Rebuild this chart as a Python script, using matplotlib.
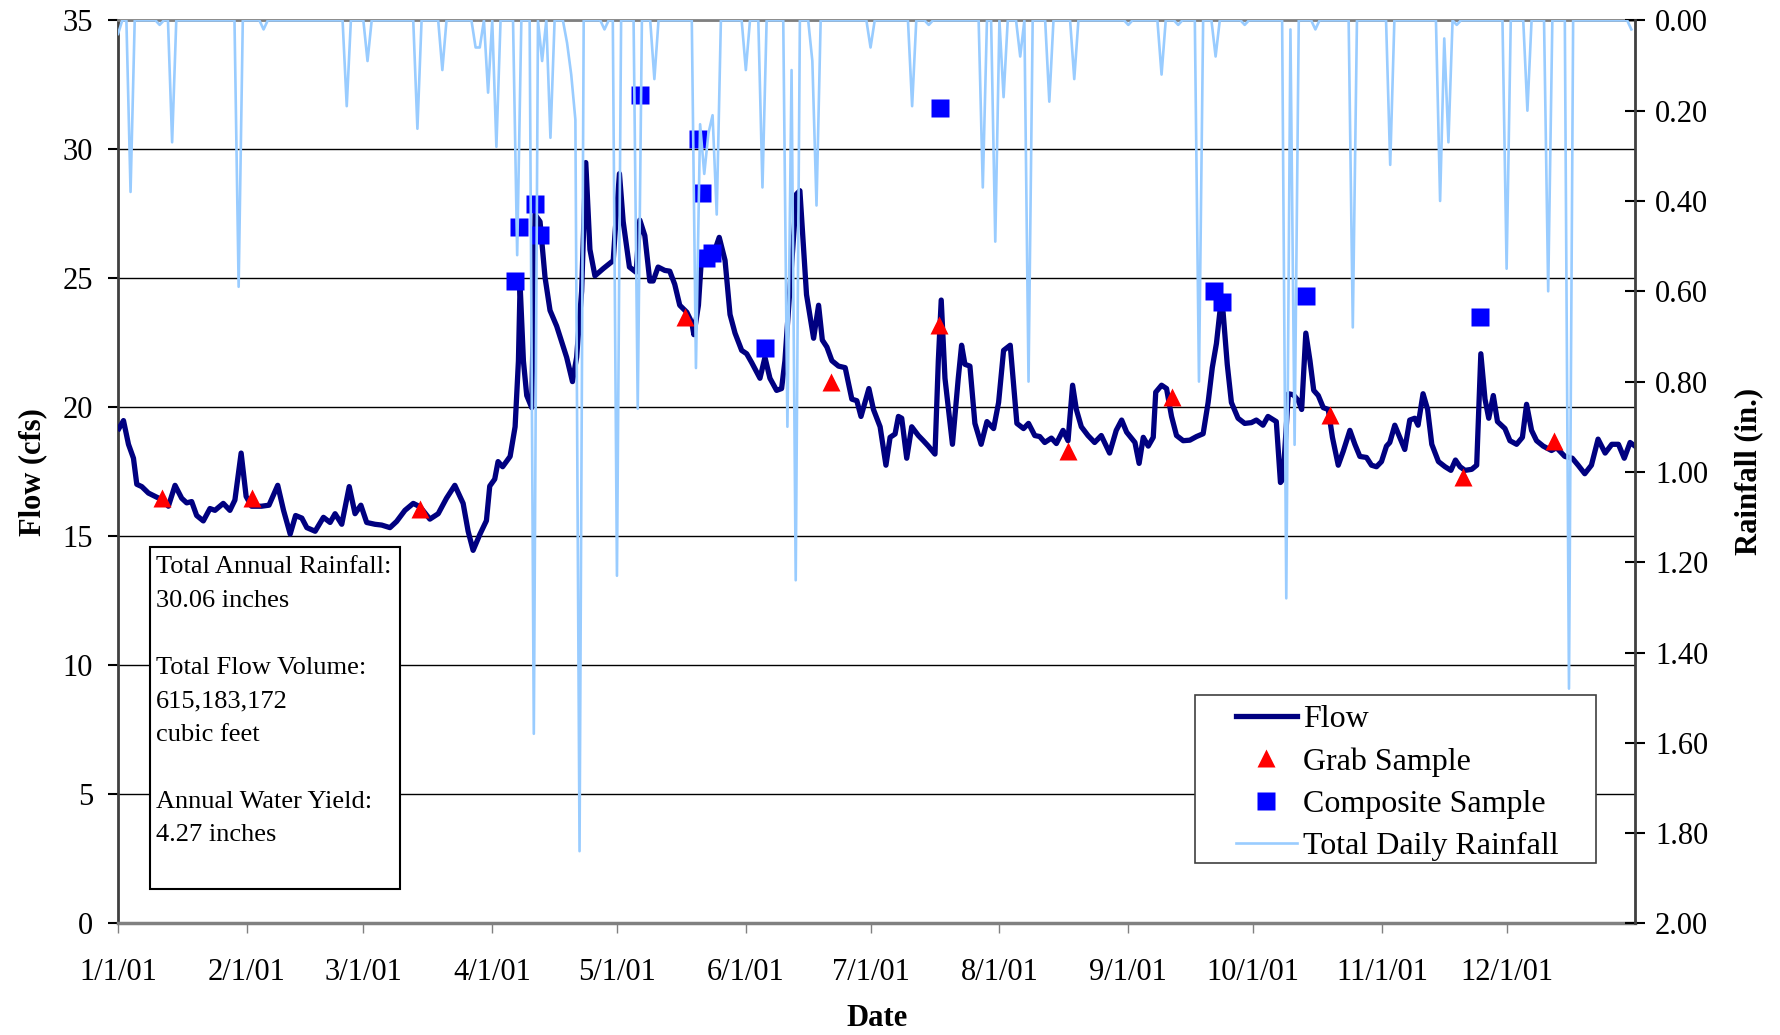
import numpy as np
import matplotlib
matplotlib.use("Agg")
import matplotlib.pyplot as plt
from matplotlib.patches import Rectangle
from matplotlib.lines import Line2D

plt.rcParams["font.family"] = ["Liberation Serif", "DejaVu Serif"]

# daily flow (day of year 2001, cfs)
flow_day = [0.2, 1.3, 2.5, 3.7, 4.5, 5.7, 7.3, 9.3, 10.9, 12.1, 13.7, 15.3, 16.5, 17.7,
            18.9, 20.5, 22.1, 23.3, 25.3, 26.9, 28.1, 29.6, 30.8, 32.1, 34.5, 36.3, 38.4,
            39.8, 41.4, 42.7, 44.2, 45.4, 47.4, 49.4, 51.0, 52.2, 53.8, 55.6, 57.0, 58.4,
            59.8, 61.8, 63.4, 65.4, 67.0, 69.0, 71.0, 72.6, 75.0, 77.0, 79.0, 81.0, 83.0,
            84.2, 85.4, 87.0, 88.6, 89.4, 90.6, 91.4, 92.5, 94.3, 95.5, 96.3, 96.7, 97.5,
            98.3, 99.5, 100.3, 101.5, 102.7, 103.9, 105.5, 107.9, 109.3, 110.3, 111.5,
            112.5, 113.5, 114.7, 116.7, 119.1, 119.5, 120.6, 121.5, 123.0, 124.6, 125.5,
            126.7, 127.9, 128.7, 129.9, 131.5, 132.7, 133.9, 135.1, 136.8, 138.0, 138.5,
            139.6, 140.4, 142.4, 143.6, 144.6, 146.0, 147.2, 148.4, 150.0, 151.2, 152.4,
            154.4, 155.6, 156.8, 158.4, 159.6, 160.4, 163.2, 164.0, 165.6, 167.3, 168.5,
            169.4, 170.5, 171.7, 173.3, 174.9, 176.5, 177.7, 178.7, 180.6, 181.7, 183.3,
            184.7, 185.7, 186.9, 187.7, 188.5, 189.7, 190.9, 192.5, 193.7, 194.9, 196.5,
            197.3, 198.0, 198.9, 200.7, 202.1, 202.9, 203.7, 204.9, 206.1, 207.6, 209.0,
            210.6, 211.8, 213.0, 214.6, 216.2, 217.8, 219.0, 220.5, 221.7, 222.9, 224.5,
            225.7, 227.3, 228.5, 229.6, 230.5, 231.7, 233.3, 234.9, 236.5, 238.5, 240.1,
            241.4, 242.6, 244.6, 245.6, 246.6, 247.8, 249.0, 249.6, 251.0, 252.2, 253.4,
            254.6, 256.2, 257.8, 259.4, 261.0, 262.2, 263.2, 264.2, 265.2, 265.8, 266.8,
            267.8, 269.4, 271.0, 272.6, 273.8, 275.4, 276.6, 278.6, 279.6, 280.2, 281.5,
            282.7, 283.9, 284.7, 285.7, 286.7, 287.6, 288.7, 289.9, 291.1, 292.1, 293.5,
            294.7, 296.3, 297.5, 298.7, 300.3, 301.5, 302.7, 303.9, 305.1, 305.9, 307.1,
            308.3, 309.5, 310.7, 311.9, 312.7, 313.9, 315.0, 316.0, 317.6, 319.2, 320.6,
            321.7, 322.8, 324.0, 325.6, 326.8, 327.8, 328.8, 329.7, 330.8, 331.8, 333.6,
            334.8, 336.4, 337.8, 338.8, 340.0, 341.2, 342.8, 344.8, 346.0, 348.0, 349.8,
            351.2, 352.8, 354.4, 356.0, 357.7, 359.3, 360.9, 362.3, 363.7, 364.9]
flow_cfs = [19.18, 19.49, 18.57, 18.03, 17.02, 16.93, 16.68, 16.52, 16.4, 16.17, 16.98, 16.48,
            16.3, 16.35, 15.81, 15.6, 16.08, 16.01, 16.28, 16.01, 16.41, 18.23, 16.55, 16.17,
            16.17, 16.21, 16.98, 16.01, 15.09, 15.81, 15.71, 15.34, 15.2, 15.74, 15.54, 15.88,
            15.47, 16.93, 15.88, 16.21, 15.54, 15.47, 15.44, 15.34, 15.58, 16.01, 16.28, 16.15,
            15.67, 15.88, 16.48, 16.98, 16.28, 15.2, 14.46, 15.07, 15.61, 16.95, 17.22, 17.9,
            17.7, 18.1, 19.25, 21.8, 24.77, 21.8, 20.46, 19.99, 27.47, 27.2, 25.04, 23.76,
            23.15, 21.94, 21.0, 21.94, 24.5, 29.49, 26.12, 25.1, 25.38, 25.69, 26.66, 29.06,
            27.2, 25.44, 25.24, 27.26, 26.66, 24.9, 24.9, 25.44, 25.31, 25.28, 24.77, 23.96,
            23.69, 23.29, 22.82, 23.96, 25.98, 25.85, 26.12, 26.59, 25.7, 23.6, 22.88, 22.21,
            22.08, 21.74, 21.13, 21.94, 21.13, 20.66, 20.73, 21.8, 28.27, 28.4, 24.37, 22.68,
            23.96, 22.61, 22.34, 21.81, 21.6, 21.54, 20.32, 20.26, 19.65, 20.73, 19.92, 19.25,
            17.76, 18.84, 18.97, 19.65, 19.58, 18.03, 19.25, 18.91, 18.71, 18.5, 18.19, 21.8,
            24.16, 21.13, 18.57, 21.13, 22.41, 21.67, 21.6, 19.38, 18.57, 19.45, 19.18, 20.19,
            22.21, 22.41, 19.38, 19.18, 19.38, 18.91, 18.87, 18.64, 18.81, 18.6, 19.11, 18.71,
            20.86, 19.92, 19.25, 18.91, 18.64, 18.91, 18.23, 19.11, 19.51, 19.04, 18.64, 17.83,
            18.84, 18.5, 18.84, 20.59, 20.86, 20.73, 19.65, 18.91, 18.71, 18.73, 18.87, 18.98,
            20.19, 21.54, 22.48, 23.96, 23.69, 21.67, 20.19, 19.58, 19.38, 19.41, 19.51, 19.31,
            19.65, 19.45, 17.09, 17.22, 20.53, 20.49, 20.26, 19.92, 22.88, 21.81, 20.66, 20.46,
            19.99, 19.92, 18.84, 17.76, 18.3, 19.11, 18.57, 18.1, 18.06, 17.76, 17.7, 17.9,
            18.5, 18.64, 19.31, 18.84, 18.37, 19.51, 19.58, 19.31, 20.53, 19.92, 18.57, 17.9,
            17.7, 17.56, 17.96, 17.7, 17.56, 17.6, 17.76, 22.08, 20.32, 19.58, 20.46, 19.45,
            19.18, 18.71, 18.57, 18.84, 20.12, 19.11, 18.71, 18.5, 18.33, 18.44, 18.1, 18.03,
            17.76, 17.43, 17.76, 18.77, 18.23, 18.57, 18.57, 18.03, 18.64, 18.5]

# rain days (all other days are 0.00 in.)
rain_day = [0, 3, 10, 13, 29, 35, 55, 60, 72, 78, 86, 87, 89, 91, 96, 100, 102, 104, 108,
            109, 110, 111, 117, 120, 125, 129, 139, 140, 141, 142, 143, 144, 151, 155, 161,
            162, 163, 167, 168, 181, 191, 195, 208, 211, 213, 217, 219, 224, 230, 243, 251,
            255, 260, 264, 271, 281, 282, 283, 288, 297, 306, 318, 319, 320, 322, 334, 339,
            344, 349, 364]
rain_in = [0.03, 0.38, 0.01, 0.27, 0.59, 0.02, 0.19, 0.09, 0.24, 0.11, 0.06, 0.06, 0.16,
           0.28, 0.52, 1.58, 0.09, 0.26, 0.05, 0.12, 0.22, 1.84, 0.02, 1.23, 0.86, 0.13,
           0.77, 0.23, 0.34, 0.25, 0.21, 0.43, 0.11, 0.37, 0.90, 0.11, 1.24, 0.09, 0.41,
           0.06, 0.19, 0.01, 0.37, 0.49, 0.17, 0.08, 0.80, 0.18, 0.13, 0.01, 0.12, 0.01,
           0.80, 0.08, 0.01, 1.28, 0.02, 0.94, 0.02, 0.68, 0.32, 0.40, 0.04, 0.27, 0.01,
           0.55, 0.20, 0.60, 1.48, 0.02]

grab_day = [10.5, 32.3, 72.6, 136.3, 171.4, 197.5, 228.6, 253.4, 291.4, 323.6, 345.3]
grab_cfs = [16.5, 16.5, 16.05, 23.5, 21.0, 23.2, 18.3, 20.4, 19.7, 17.3, 18.7]

comp_day = [95.5, 96.4, 100.4, 101.5, 125.5, 139.4, 140.4, 141.5, 142.8, 155.5, 197.7,
            263.6, 265.6, 285.7, 327.7]
comp_cfs = [24.9, 27.0, 27.9, 26.7, 32.1, 30.4, 28.3, 25.8, 26.0, 22.3, 31.6, 24.5, 24.1,
            24.3, 23.5]

month_start = [0, 31, 59, 90, 120, 151, 181, 212, 243, 273, 304, 334]
month_labels = ["1/1/01", "2/1/01", "3/1/01", "4/1/01", "5/1/01", "6/1/01", "7/1/01",
                "8/1/01", "9/1/01", "10/1/01", "11/1/01", "12/1/01"]

summary = ("Total Annual Rainfall:\n30.06 inches\n\nTotal Flow Volume:\n615,183,172\n"
           "cubic feet\n\nAnnual Water Yield:\n4.27 inches")

rain_daily = np.zeros(365)
rain_daily[rain_day] = rain_in

fig = plt.figure(figsize=(17.81, 10.35), dpi=100)
ax = fig.add_axes([0.0663, 0.1078, 0.8520, 0.8725])
ax2 = ax.twinx()

ax.plot(flow_day, flow_cfs, color="#000080", lw=3.8, solid_joinstyle="round", zorder=3)
ax.plot(grab_day, grab_cfs, "^", color="#FF0000", ms=13, mec="none", zorder=4)
ax.plot(comp_day, comp_cfs, "s", color="#0000FF", ms=13, mec="none", zorder=4)
ax2.plot(np.arange(365), rain_daily, color="#99CCFF", lw=1.9, solid_joinstyle="round")

ax.set_xlim(0, 365)
ax.set_ylim(0, 35)
ax.set_yticks(np.arange(0, 36, 5))
ax.set_xticks(month_start)
ax.set_xticklabels(month_labels)
ax.grid(axis="y", color="black", lw=1.0)
ax.set_axisbelow(True)
ax2.set_ylim(2, 0)
ax2.set_yticks(np.arange(0, 2.01, 0.2))
ax2.set_yticklabels(["%.2f" % v for v in np.arange(0, 2.01, 0.2)])

ax.tick_params(axis="y", labelsize=22, length=7, width=1.5, pad=11, direction="out")
ax.tick_params(axis="x", labelsize=22, length=7, width=1, pad=18, direction="out",
               color="#808080")
ax2.tick_params(axis="y", labelsize=22, length=14, width=1.5, pad=7, direction="inout")

for s in ["top", "bottom"]:
    ax.spines[s].set_color("#808080")
    ax2.spines[s].set_visible(False)
ax.spines["top"].set_linewidth(2)
ax.spines["bottom"].set_linewidth(2.5)
ax.spines["left"].set_color("#404040")
ax.spines["left"].set_linewidth(2)
ax2.spines["right"].set_color("#404040")
ax2.spines["right"].set_linewidth(2)
ax2.spines["left"].set_visible(False)

ax.set_ylabel("Flow (cfs)", fontsize=22, fontweight="bold")
ax.yaxis.set_label_coords(-0.047, 0.5)
ax2.set_ylabel("Rainfall (in.)", fontsize=22, fontweight="bold")
ax2.yaxis.set_label_coords(1.065, 0.5)
ax.set_xlabel("Date", fontsize=22, fontweight="bold")
ax.xaxis.set_label_coords(0.5, -0.089)

# summary box
ax.add_patch(Rectangle((150 / 1781, 1 - 889 / 1035), 250 / 1781, 342 / 1035,
                       transform=fig.transFigure, facecolor="white", edgecolor="black",
                       lw=1.5, zorder=5))
ax.text(155.5 / 1781, 1 - 556 / 1035, summary, transform=fig.transFigure, fontsize=19,
        va="top", ha="left", linespacing=1.68, zorder=6)

# legend
ax2.add_patch(Rectangle((1195 / 1781, 1 - 863 / 1035), 401 / 1781, 168 / 1035,
                        transform=fig.transFigure, facecolor="white", edgecolor="#404040",
                        lw=1.2, zorder=5))
handles = [Line2D([], [], color="#000080", lw=3.8),
           Line2D([], [], ls="none", marker="^", color="#FF0000", ms=13, mec="none"),
           Line2D([], [], ls="none", marker="s", color="#0000FF", ms=13, mec="none"),
           Line2D([], [], color="#99CCFF", lw=1.9)]
labels = ["Flow", "Grab Sample", "Composite Sample", "Total Daily Rainfall"]
leg = ax2.legend(handles, labels, loc="upper left", bbox_to_anchor=(1236 / 1781, 1 - 705 / 1035),
                 bbox_transform=fig.transFigure, frameon=False, fontsize=23, borderpad=0,
                 borderaxespad=0, handlelength=1.9, handletextpad=0.2, labelspacing=0.4)
leg.set_zorder(6)

fig.savefig("out.png", dpi=100)
